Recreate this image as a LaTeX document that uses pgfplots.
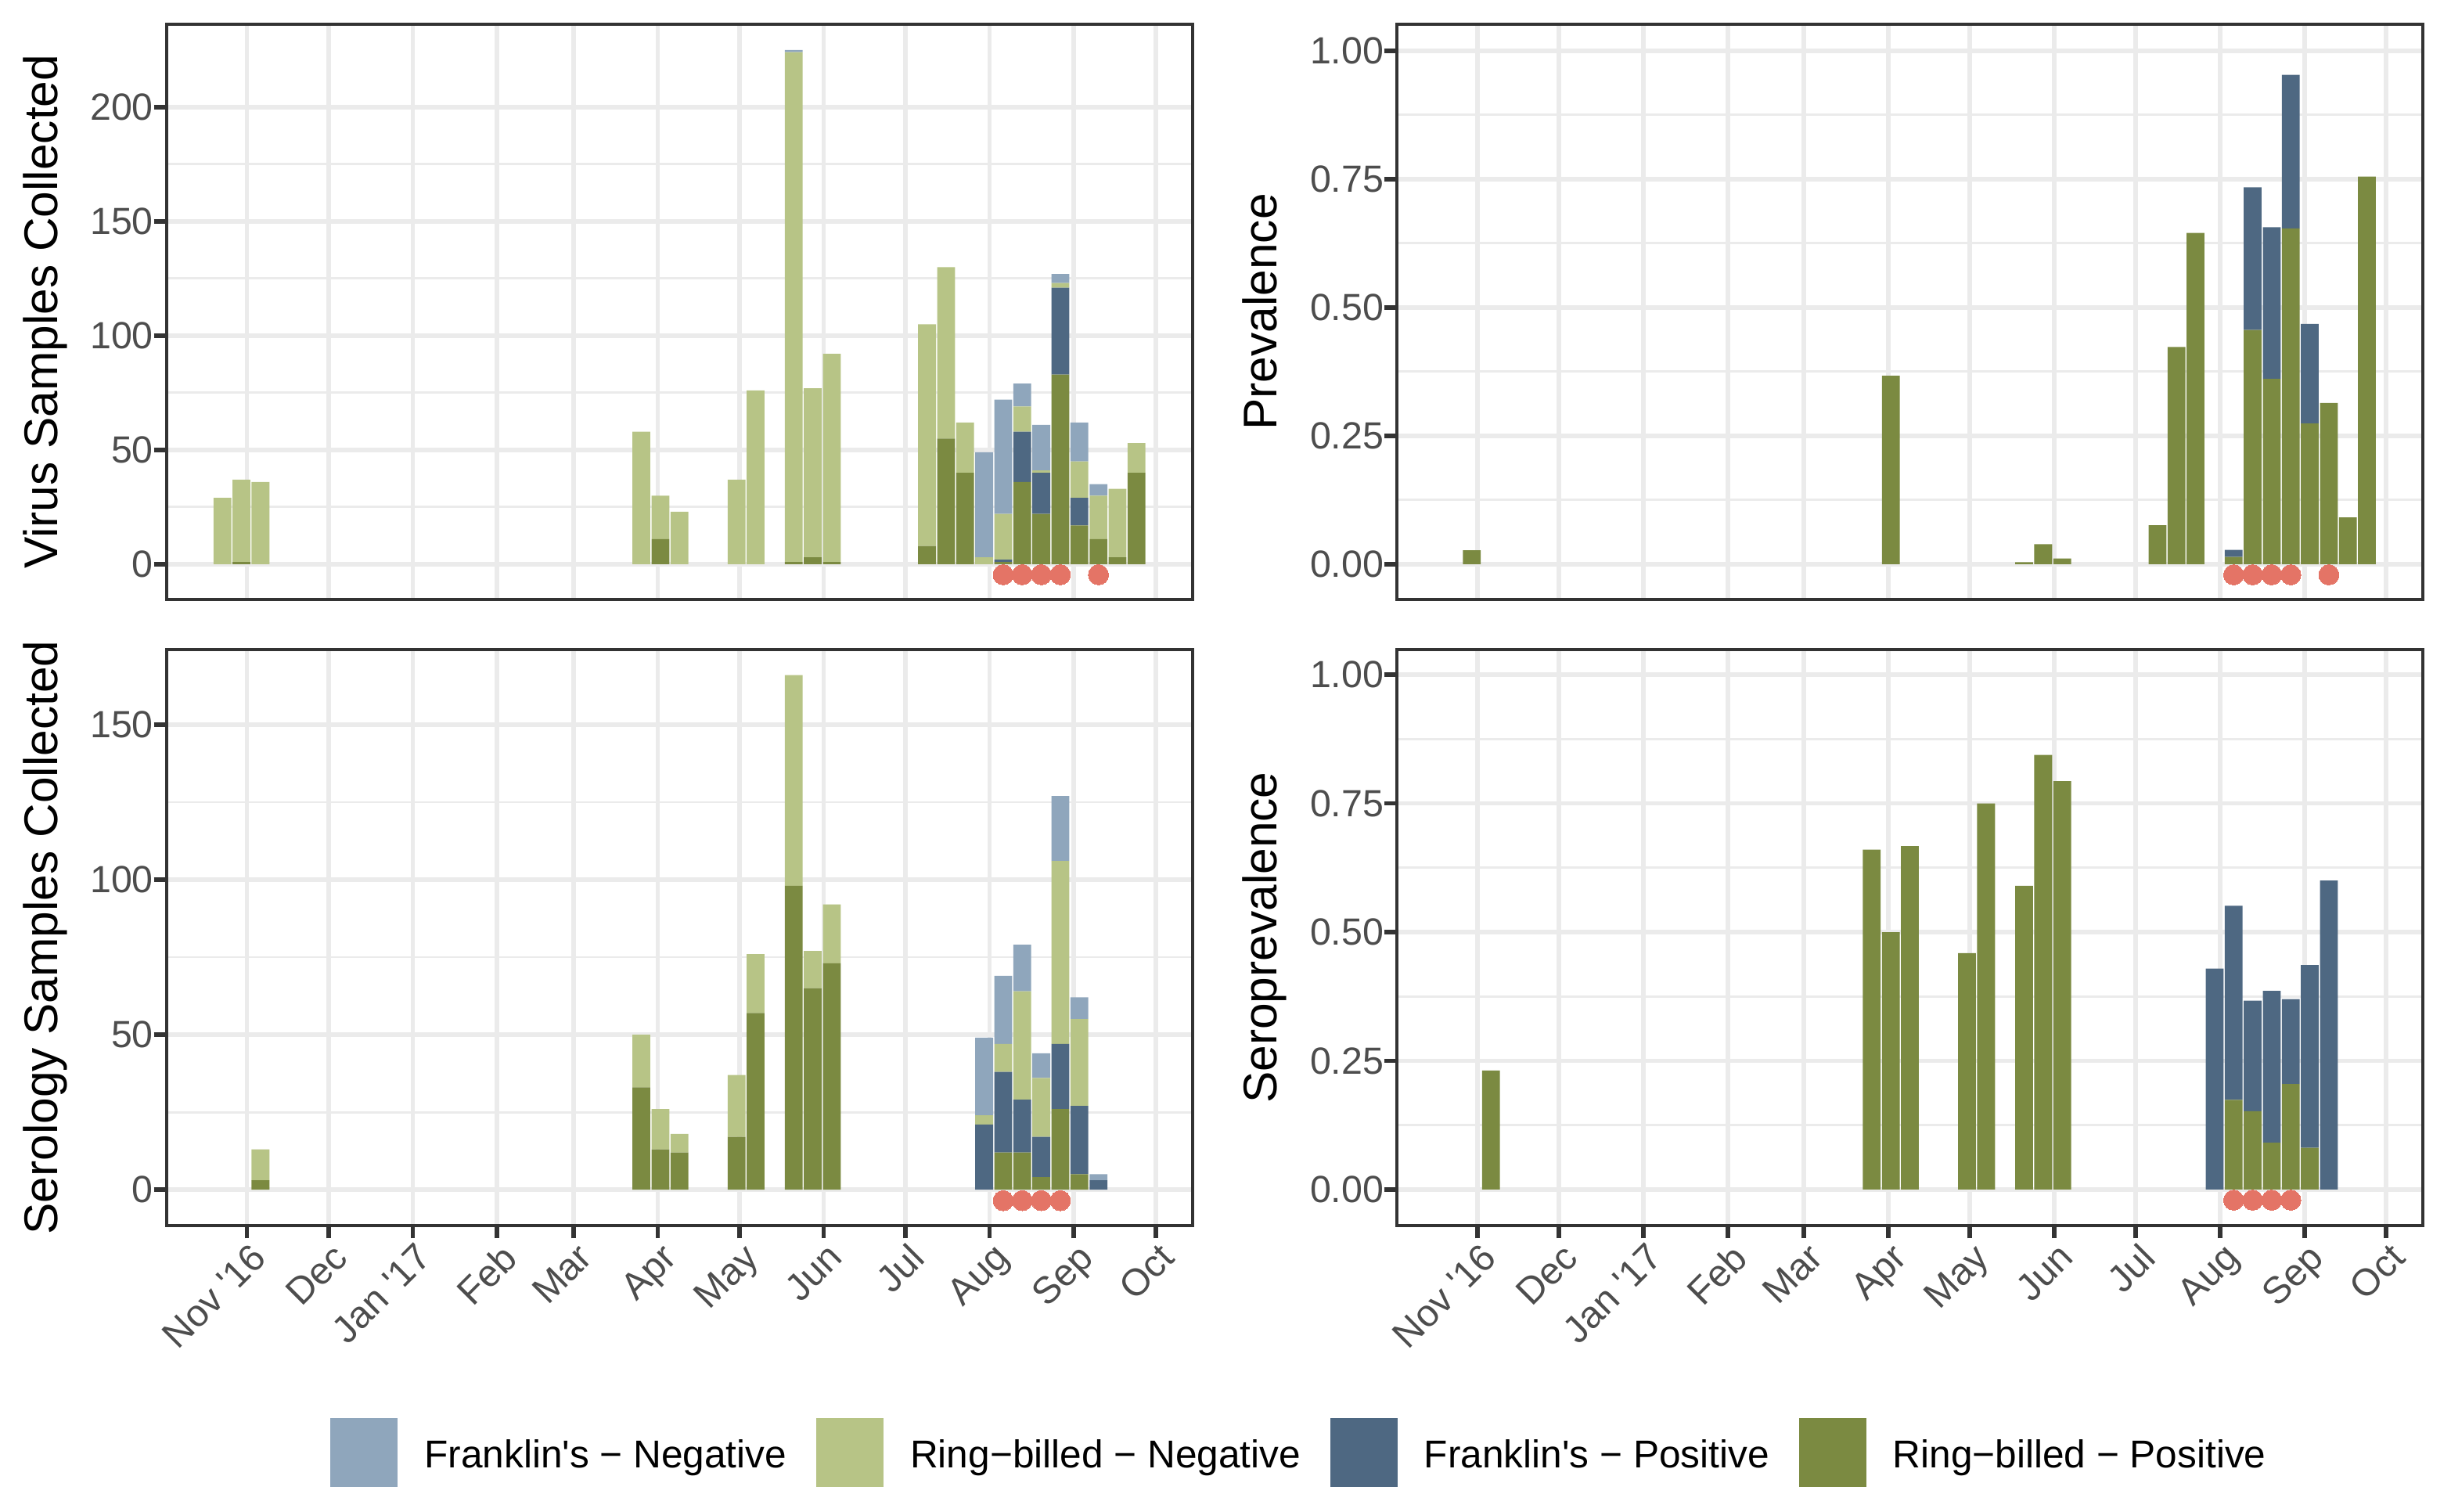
\documentclass[border=0pt]{standalone}
\usepackage{fontspec}
\setmainfont{Liberation Sans}
\usepackage{pgfplots}
\usepackage{pgfplotstable}
\pgfplotsset{compat=1.18}

\definecolor{fneg}{HTML}{8FA6BC}
\definecolor{rneg}{HTML}{B7C486}
\definecolor{fpos}{HTML}{4E6882}
\definecolor{rpos}{HTML}{7B8A41}
\definecolor{dotc}{HTML}{E47466}
\definecolor{gridc}{HTML}{EBEBEB}
\definecolor{framec}{HTML}{333333}
\definecolor{ticktext}{HTML}{4D4D4D}

% weekly counts: Ring-billed pos, Franklin's pos, Ring-billed neg, Franklin's neg
\pgfplotstableread{
day rp fp rn fn
-9   0  0  29  0
-2   1  0  36  0
5    0  0  36  0
145  0  0  58  0
152 11  0  19  0
159  0  0  23  0
180  0  0  37  0
187  0  0  76  0
201  1  0 223  1
208  3  0  74  0
215  1  0  91  0
250  8  0  97  0
257 55  0  75  0
264 40  0  22  0
271  0  0   3 46
278  1  1  20 50
285 36 22  11 10
292 22 18   1 20
299 83 38   2  4
306 17 12  16 17
313 11  0  19  5
320  3  0  30  0
327 40  0  13  0
}\virus

\pgfplotstableread{
day rp fp
-2  0.027 0
152 0.367 0
201 0.004 0
208 0.039 0
215 0.011 0
250 0.076 0
257 0.423 0
264 0.645 0
278 0.014 0.014
285 0.456 0.278
292 0.361 0.295
299 0.654 0.299
306 0.274 0.194
313 0.314 0
320 0.091 0
327 0.755 0
}\prev

\pgfplotstableread{
day rp fp rn fn
5    3  0  10  0
145 33  0  17  0
152 13  0  13  0
159 12  0   6  0
180 17  0  20  0
187 57  0  19  0
201 98  0  68  0
208 65  0  12  0
215 73  0  19  0
271  0 21   3 25
278 12 26   9 22
285 12 17  35 15
292  4 13  19  8
299 26 21  59 21
306  5 22  28  7
313  0  3   0  2
}\sero

\pgfplotstableread{
day rp fp
5   0.231 0
145 0.660 0
152 0.500 0
159 0.667 0
180 0.459 0
187 0.750 0
201 0.590 0
208 0.844 0
215 0.793 0
271 0     0.429
278 0.174 0.377
285 0.152 0.215
292 0.091 0.295
299 0.205 0.165
306 0.081 0.355
313 0     0.600
}\seroprev

\pgfplotsset{
  panel/.style={
    scale only axis, width=314.6pt,
    xmin=-29.5, xmax=347.6,
    xtick={0,30,61,92,120,151,181,212,242,273,304,334},
    xticklabels={Nov \textquotesingle16,Dec,Jan \textquotesingle17,Feb,Mar,Apr,May,Jun,Jul,Aug,Sep,Oct},
    grid=both, minor y tick num=1,
    major grid style={draw=gridc, line width=1.4pt},
    minor grid style={draw=gridc, line width=0.7pt},
    axis line style={draw=framec, line width=1pt},
    tick align=outside, tick pos=left,
    major tick length=3.9pt, minor tick length=0pt,
    tick style={draw=framec, line width=1.4pt},
    /pgf/number format/assume math mode=true,
    ticklabel style={font=\fontsize{11.6}{13}\selectfont, text=ticktext},
    yticklabel style={anchor=east, inner sep=0pt},
    xticklabel style={rotate=45, anchor=north east, inner sep=0pt, yshift=-1pt},
    ybar stacked, bar width=6.55,
    every axis y label/.style={at={(axis description cs:#1,0.5)}, rotate=90,
      anchor=north, inner sep=0pt, font=\fontsize{14.5}{17}\selectfont},
  },
  notx/.style={xticklabels={}, x tick style={draw=none}},
  frac/.style={ytick={0,0.25,0.5,0.75,1},
    yticklabel style={/pgf/number format/.cd, fixed, fixed zerofill, precision=2}},
  dots/.style={scale only axis, width=314.6pt, xmin=-29.5, xmax=347.6, hide axis},
  dotplot/.style={only marks, mark=*, color=dotc, mark size=3.1pt, mark options={fill=dotc, draw=dotc, line width=0pt}},
  sqlegend/.style={legend image code/.code={\fill[##1] (0pt,-9.35pt) rectangle (20.6pt,11.75pt); \path (28.8pt,0pt);}},
}

\begin{document}
\begin{tikzpicture}
\useasboundingbox (0,0) rectangle (751.6pt,463.6pt);

% top left: virus samples
\begin{axis}[panel=-0.1402, notx, at={(51.1pt,279.8pt)}, anchor=south west,
  height=176.4pt, ymin=-15.4, ymax=236.3, ytick={0,50,100,150,200},
  ylabel={Virus Samples Collected}]
\addplot[fill=rpos, draw=none] table[x=day, y=rp] {\virus};
\addplot[fill=fpos, draw=none] table[x=day, y=fp] {\virus};
\addplot[fill=rneg, draw=none] table[x=day, y=rn] {\virus};
\addplot[fill=fneg, draw=none] table[x=day, y=fn] {\virus};
\end{axis}
\begin{axis}[dots, at={(51.1pt,279.8pt)}, anchor=south west, height=176.4pt, ymin=-15.4, ymax=236.3]
\addplot[dotplot] coordinates {(278,-4.6) (285,-4.6) (292,-4.6) (299,-4.6) (313,-4.6)};
\end{axis}

% top right: prevalence
\begin{axis}[panel=-0.151, notx, frac, at={(428.4pt,279.8pt)}, anchor=south west,
  height=176.4pt, ymin=-0.0686, ymax=1.0517, ylabel={Prevalence}]
\addplot[fill=rpos, draw=none] table[x=day, y=rp] {\prev};
\addplot[fill=fpos, draw=none] table[x=day, y=fp] {\prev};
\end{axis}
\begin{axis}[dots, at={(428.4pt,279.8pt)}, anchor=south west, height=176.4pt, ymin=-0.0686, ymax=1.0517]
\addplot[dotplot] coordinates {(278,-0.0207) (285,-0.0207) (292,-0.0207) (299,-0.0207) (313,-0.0207)};
\end{axis}

% bottom left: serology samples
\begin{axis}[panel=-0.1402, at={(51.1pt,87.8pt)}, anchor=south west,
  height=176.6pt, ymin=-11.6, ymax=174.2, ytick={0,50,100,150},
  ylabel={Serology Samples Collected},
  reverse legend, legend columns=4,
  legend style={at={(axis description cs:1.103,-0.394)}, anchor=center,
    draw=none, fill=none, inner sep=0pt, outer sep=0pt,
    font=\fontsize{11.9}{14}\selectfont, nodes={inner sep=0pt},
    /tikz/every even column/.append style={column sep=9.1pt}}]
\addplot[fill=rpos, draw=none, sqlegend] table[x=day, y=rp] {\sero};
\addlegendentry{Ring−billed − Positive}
\addplot[fill=fpos, draw=none, sqlegend] table[x=day, y=fp] {\sero};
\addlegendentry{Franklin\textquotesingle s − Positive}
\addplot[fill=rneg, draw=none, sqlegend] table[x=day, y=rn] {\sero};
\addlegendentry{Ring−billed − Negative}
\addplot[fill=fneg, draw=none, sqlegend] table[x=day, y=fn] {\sero};
\addlegendentry{Franklin\textquotesingle s − Negative}
\end{axis}
\begin{axis}[dots, at={(51.1pt,87.8pt)}, anchor=south west, height=176.6pt, ymin=-11.6, ymax=174.2]
\addplot[dotplot] coordinates {(278,-3.55) (285,-3.55) (292,-3.55) (299,-3.55)};
\end{axis}

% bottom right: seroprevalence
\begin{axis}[panel=-0.151, frac, at={(428.4pt,87.8pt)}, anchor=south west,
  height=176.6pt, ymin=-0.070, ymax=1.0486, ylabel={Seroprevalence}]
\addplot[fill=rpos, draw=none] table[x=day, y=rp] {\seroprev};
\addplot[fill=fpos, draw=none] table[x=day, y=fp] {\seroprev};
\end{axis}
\begin{axis}[dots, at={(428.4pt,87.8pt)}, anchor=south west, height=176.6pt, ymin=-0.070, ymax=1.0486]
\addplot[dotplot] coordinates {(278,-0.0206) (285,-0.0206) (292,-0.0206) (299,-0.0206)};
\end{axis}
\end{tikzpicture}
\end{document}
